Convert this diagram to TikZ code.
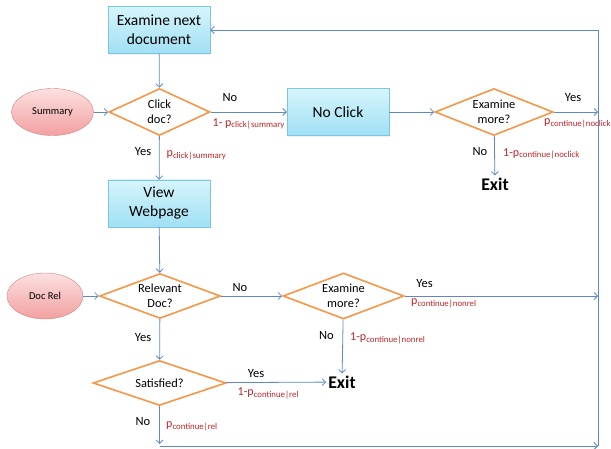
\documentclass[tikz,border=0pt]{standalone}
\usepackage{fontspec}
\setmainfont{Carlito}
\usetikzlibrary{shapes.geometric,arrows.meta,shadows}
\definecolor{boxtop}{RGB}{214,245,252}
\definecolor{boxbot}{RGB}{160,224,244}
\definecolor{boxline}{RGB}{125,198,222}
\definecolor{ovaltop}{RGB}{252,224,224}
\definecolor{ovalbot}{RGB}{242,160,160}
\definecolor{ovalline}{RGB}{210,130,130}
\definecolor{decline}{RGB}{247,150,70}
\definecolor{flowblue}{RGB}{96,136,196}
\definecolor{probred}{RGB}{190,36,40}
\newcommand\psub[1]{\raisebox{-0.3ex}{\fontsize{8.8}{10}\selectfont #1}}
\tikzset{
  docbox/.style={rectangle, draw=boxline, top color=boxtop, bottom color=boxbot,
    minimum width=102pt, minimum height=47pt, inner sep=1pt, align=center,
    font=\fontsize{15.5}{19}\selectfont,
    drop shadow={opacity=0.12, shadow xshift=1pt, shadow yshift=-1.5pt}},
  choice/.style={diamond, draw=decline, line width=1.6pt, fill=white, aspect=2.6,
    inner sep=0pt, align=center, font=\fontsize{12.4}{15}\selectfont},
  factor/.style={ellipse, draw=ovalline, top color=ovaltop, bottom color=ovalbot,
    minimum width=82pt, minimum height=47pt, inner sep=0pt, font=\fontsize{10.5}{12}\selectfont},
  flow/.style={-{Straight Barb[length=3.5pt,width=7pt]}, draw=flowblue, line width=0.8pt},
  link/.style={draw=flowblue, line width=0.8pt},
  answer/.style={inner sep=0pt, font=\fontsize{12.5}{14}\selectfont},
  prob/.style={anchor=west, inner sep=0pt, text=probred, font=\fontsize{12}{14}\selectfont},
  exitnode/.style={inner sep=2pt, font=\bfseries\fontsize{17.8}{20}\selectfont}
}
\begin{document}
\begin{tikzpicture}[x=1pt,y=-1pt]
\useasboundingbox (0,0) rectangle (611,449);
% blocks
\node[docbox] (exam) at (159,30) {Examine next\\document};
\node[choice, minimum width=101pt, minimum height=47pt] (click) at (159.5,112) {Click\\doc?};
\node[factor] (summ) at (52.5,112) {Summary};
\node[docbox] (noclick) at (338,112) {No Click};
\node[choice, minimum width=118pt, minimum height=47pt] (more1) at (494,112) {Examine\\more?};
\node[exitnode] (exit1) at (495,184) {Exit};
\node[docbox] (view) at (159,203.5) {View\\Webpage};
\node[factor, minimum width=76pt, minimum height=46pt] (rel) at (45,296) {Doc Rel};
\node[choice, minimum width=121pt, minimum height=45pt] (relq) at (160,296) {Relevant\\Doc?};
\node[choice, minimum width=121pt, minimum height=46pt] (more2) at (343.5,296) {Examine\\more?};
\node[exitnode] (exit2) at (342,382) {Exit};
\node[choice, minimum width=133pt, minimum height=45pt] (sat) at (159.5,383) {Satisfied?};
% corners of the loop back
\coordinate (tr) at (598,30);
\coordinate (br) at (598,446);
\coordinate (nb) at (159.5,444);
% connectors
\draw[flow] (exam) -- (click);
\draw[flow] (summ) -- (click);
\draw[flow] (click) -- (noclick);
\draw[flow] (noclick) -- (more1);
\draw[flow] (more1.east) -- (more1.east -| tr);
\draw[flow] (more1) -- (exit1);
\draw[flow] (click) -- (view);
\draw[flow] (view) -- (relq);
\draw[flow] (rel) -- (relq);
\draw[flow] (relq) -- (more2);
\draw[flow] (more2.east) -- (more2.east -| tr);
\draw[flow] (more2) -- (exit2);
\draw[flow] (relq) -- (sat);
\draw[flow] (sat) -- (exit2);
\draw[flow] (sat) -- (nb);
\draw[flow] (nb |- br) -- (br);
\draw[link] (br) -- (tr);
\draw[flow] (tr) -- (exam);
% labels
\node[answer] (n1) at (230,98) {No};
\node[prob] (p1) at (212.5,124) {1- p\psub{click|summary}};
\node[answer] (y1) at (143,152) {Yes};
\node[prob] (p2) at (166.5,155) {p\psub{click|summary}};
\node[answer] (y2) at (573,98) {Yes};
\node[prob] (p3) at (544,123.5) {p\psub{continue|noclick}};
\node[answer] (n2) at (480,152) {No};
\node[prob] (p4) at (503,154) {1-p\psub{continue|noclick}};
\node[answer] (n3) at (240,288) {No};
\node[answer] (y3) at (424.5,284) {Yes};
\node[prob] (p5) at (411,303) {p\psub{continue|nonrel}};
\node[answer] (n4) at (326.5,336) {No};
\node[prob] (p6) at (350,338.5) {1-p\psub{continue|nonrel}};
\node[answer] (y4) at (143,338) {Yes};
\node[answer] (y5) at (256,374) {Yes};
\node[prob] (p7) at (237.5,393.5) {1-p\psub{continue|rel}};
\node[answer] (n5) at (143,422) {No};
\node[prob] (p8) at (166,426) {p\psub{continue|rel}};
\end{tikzpicture}
\end{document}
